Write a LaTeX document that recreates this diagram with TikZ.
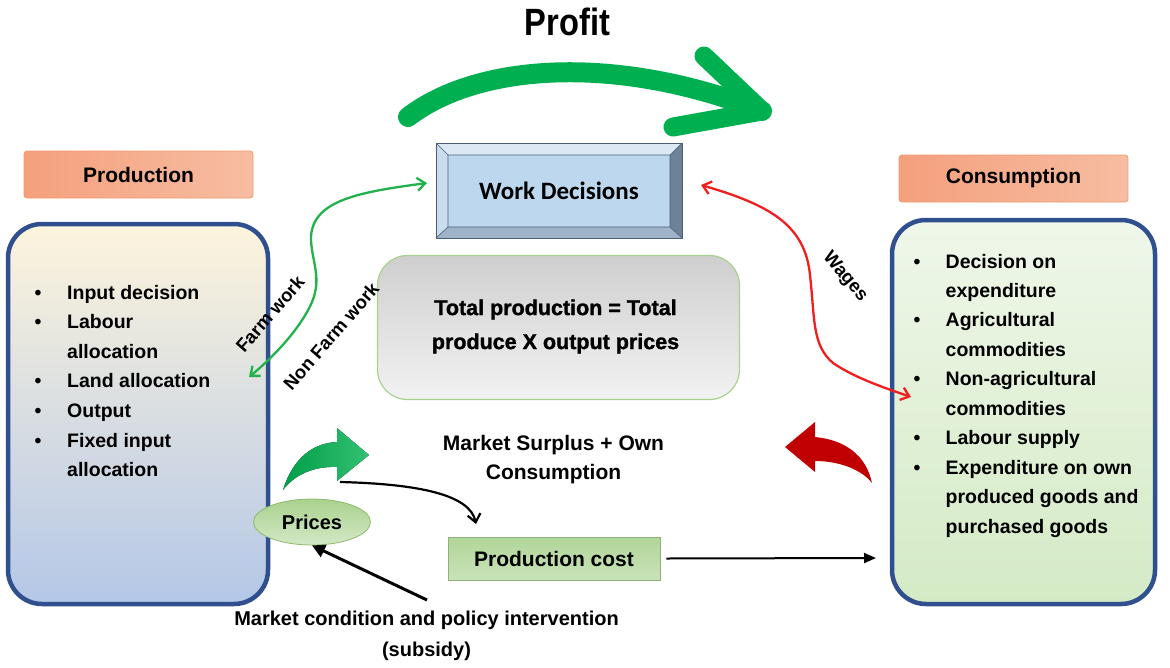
\documentclass[tikz,border=0pt]{standalone}
\usepackage{fontspec}
\setmainfont{Liberation Sans}
\newfontfamily\narrowfont{Liberation Sans}[FakeStretch=0.86]
\newfontfamily\heavyfont{Liberation Sans}[BoldFeatures={FakeBold=1.3}]
\newfontfamily\calfont{Carlito}
\usetikzlibrary{arrows.meta,shapes.geometric}
\definecolor{boxblue}{HTML}{2F4F8F}
\definecolor{hdrL}{HTML}{F4A07C}
\definecolor{hdrR}{HTML}{F7BDA2}
\definecolor{hdrB}{HTML}{F09A6E}
\definecolor{gthin}{HTML}{22B14C}
\definecolor{gbig}{HTML}{00B050}
\definecolor{rthin}{HTML}{F01E1E}
\definecolor{rblock}{HTML}{C00000}
\definecolor{lgreen}{HTML}{A9D18E}
\definecolor{llgreen}{HTML}{C9E3B8}
\definecolor{gborder}{HTML}{8DBB6A}
\definecolor{wdface}{HTML}{BDD7EE}
\definecolor{wdtop}{HTML}{DCE9F5}
\definecolor{wdleft}{HTML}{CADDF0}
\definecolor{wdright}{HTML}{6F8197}
\definecolor{wdbot}{HTML}{9FB3C8}
\definecolor{wdline}{HTML}{4A5E78}
\definecolor{ptop}{HTML}{FDF4DC}
\definecolor{pmid}{HTML}{ECECEE}
\definecolor{pbot}{HTML}{B4C7E7}
\definecolor{ctop}{HTML}{EFF7EA}
\definecolor{cmid}{HTML}{BFDDAA}
\definecolor{cbot}{HTML}{D4EAC5}
\begin{document}
\begin{tikzpicture}[x=1pt,y=-1pt,
  bigbox/.style={draw=boxblue, line width=4.5pt, rounded corners=34pt},
  hdr/.style={draw=hdrB, line width=0.8pt, rounded corners=3pt, left color=hdrL, right color=hdrR,
    minimum width=229pt, minimum height=47pt, inner sep=0pt, font=\fontsize{21}{25}\selectfont\bfseries},
  item/.style={font=\fontsize{19.5}{24}\selectfont\bfseries, inner sep=0pt},
  body/.style={font=\fontsize{20}{24}\selectfont\bfseries, inner sep=0pt},
  thinln/.style={line width=2.3pt},
  barb/.tip={Straight Barb[length=8pt,width=13pt,line width=2.3pt]},
]
\useasboundingbox (0,0) rectangle (1170,667);

% Profit
\node[inner sep=0pt, anchor=base, font=\fontsize{38}{40}\selectfont\narrowfont\bfseries] (profit) at (567.5,35) {Profit};
% big green arrow
\coordinate (pa) at (408,117);
\coordinate (pb) at (762,111);
\draw[gbig, line width=20pt, line cap=round, line join=round]
  (pa) .. controls (480,62) and (620,55) .. (pb);
\coordinate (ph1) at (704,56);
\coordinate (ph2) at (673,127);
\draw[gbig, line width=19pt, line cap=round, line join=round] (ph1) -- (pb) -- (ph2);

% Headers
\node[hdr] (prodhdr) at (138.5,174.5) {Production};
\node[hdr] (conshdr) at (1013.5,178.5) {Consumption};

% Production box
\node[bigbox, minimum width=260pt, minimum height=380pt, top color=ptop, middle color=pmid, bottom color=pbot] (prod) at (138,414) {};
% Consumption box
\node[bigbox, minimum width=263pt, minimum height=384pt, top color=ctop, middle color=cmid, bottom color=cbot] (cons) at (1023.5,412) {};

% Production list
\foreach \b/\t [count=\i] in {1/Input decision,1/Labour,0/allocation,1/Land allocation,1/Output,1/Fixed input,0/allocation}{
  \node[item, anchor=base west] (pi\i) at (67,{299+29.65*(\i-1)}) {\t};
  \ifnum\b=1 \node[item, anchor=base] (pb\i) at (38,{299+29.65*(\i-1)}) {•};\fi
}
% Consumption list
\foreach \b/\t [count=\i] in {1/Decision on,0/expenditure,1/Agricultural,0/commodities,1/Non-agricultural,0/commodities,1/Labour supply,1/Expenditure on own,0/produced goods and,0/purchased goods}{
  \node[item, anchor=base west] (ci\i) at (945.5,{268+29.45*(\i-1)}) {\t};
  \ifnum\b=1 \node[item, anchor=base] (cb\i) at (917,{268+29.45*(\i-1)}) {•};\fi
}

% Work decisions bevel box
\node[minimum width=246pt, minimum height=95pt, inner sep=0pt] (wd) at (559,190.5) {};
\fill[wdtop] (436,143) -- (682,143) -- (670,155) -- (448,155) -- cycle;
\fill[wdleft] (436,143) -- (448,155) -- (448,227) -- (436,238) -- cycle;
\fill[wdright] (682,143) -- (682,238) -- (670,227) -- (670,155) -- cycle;
\fill[wdbot] (436,238) -- (682,238) -- (670,227) -- (448,227) -- cycle;
\fill[wdface] (448,155) rectangle (670,227);
\draw[wdline, line width=0.8pt] (436,143) rectangle (682,238);
\draw[wdline, line width=0.6pt] (448,155) rectangle (670,227)
  (436,143) -- (448,155) (682,143) -- (670,155) (682,238) -- (670,227) (436,238) -- (448,227);
\node[inner sep=0pt, font=\fontsize{25}{28}\selectfont\calfont\bfseries] (wdt) at (559,191) {Work Decisions};

% Total production box
\node[draw=lgreen, line width=1.2pt, rounded corners=30pt, minimum width=362pt, minimum height=144pt,
  top color=black!19, bottom color=black!5] (tp) at (558.5,327.5) {};
\node[body, align=center, font=\fontsize{21.5}{34}\selectfont\heavyfont\bfseries] (tpt) at (555.5,326.5) {Total production = Total\\produce X output prices};

% Green thin double arrow (farm / non farm work)
\coordinate (ga) at (427,183);
\coordinate (gb) at (249,377);
\draw[gthin, thinln, barb-barb] (ga) .. controls (360,192) and (310,200) .. (311,240)
  .. controls (312,262) and (322,278) .. (312,302) .. controls (300,330) and (270,360) .. (gb);
\node[body, font=\fontsize{18.5}{22}\selectfont\bfseries, rotate=49] (fw) at (270,314) {Farm work};
\node[body, font=\fontsize{18.5}{22}\selectfont\bfseries, rotate=49] (nfw) at (331,336) {Non Farm work};

% Red thin double arrow (wages)
\coordinate (ra) at (701,185);
\coordinate (rb) at (911,397);
\draw[rthin, thinln, barb-barb] (ra) .. controls (770,205) and (805,225) .. (810,275)
  .. controls (815,320) and (812,345) .. (833,363) .. controls (855,378) and (885,388) .. (rb);
\node[body, font=\fontsize{18.5}{22}\selectfont\bfseries, rotate=-50] (wg) at (845,277) {Wages};

% small green block arrow
\fill[left color=gbig!90!black, right color=gbig!80!white]
  (283,490) .. controls (293,458) and (313,443) .. (337,442) -- (337,428) -- (369,455) -- (337,481) -- (337,467)
  .. controls (315,466) and (295,474) .. (283,490) -- cycle;
% red block arrow
\fill[rblock]
  (872,483) .. controls (866,455) and (845,440) .. (815,437) -- (815,422) -- (785,447) -- (815,472) -- (815,461)
  .. controls (840,461) and (862,470) .. (872,483) -- cycle;

% Market surplus
\node[body, align=center, font=\fontsize{21}{29}\selectfont\bfseries] (ms) at (553.5,459.5) {Market Surplus + Own\\Consumption};

% Prices
\node[ellipse, draw=gborder, line width=0.8pt, top color=lgreen, bottom color=llgreen!80!white,
  minimum width=117pt, minimum height=46pt, inner sep=0pt, body] (prices) at (312,522) {Prices};
% Production cost
\node[draw=lgreen!85!black, line width=0.6pt, top color=lgreen!90!white, bottom color=llgreen,
  minimum width=212pt, minimum height=43pt, inner sep=0pt, font=\fontsize{21}{24}\selectfont\bfseries] (pc) at (554,558.5) {Production cost};

% black curved arrow
\coordinate (ka) at (340,482);
\coordinate (kb) at (476,524);
\draw[line width=2.2pt, -{Straight Barb[length=8pt,width=13pt,line width=2.2pt]}] (ka) .. controls (420,484) and (470,495) .. (kb);
% production cost -> consumption
\coordinate (pce) at (876,558);
\draw[line width=2pt, -{Triangle[length=12pt,width=10pt]}] ([xshift=6pt]pc.east) -- (pce);
% market condition -> prices
\coordinate (mca) at (427,600);
\draw[line width=3pt, -{Triangle[length=13pt,width=13pt]}] (mca) -- (prices.south);
\node[body, align=center, font=\fontsize{20}{31}\selectfont\bfseries] (mc) at (426.5,636) {Market condition and policy intervention\\(subsidy)};
\end{tikzpicture}
\end{document}
